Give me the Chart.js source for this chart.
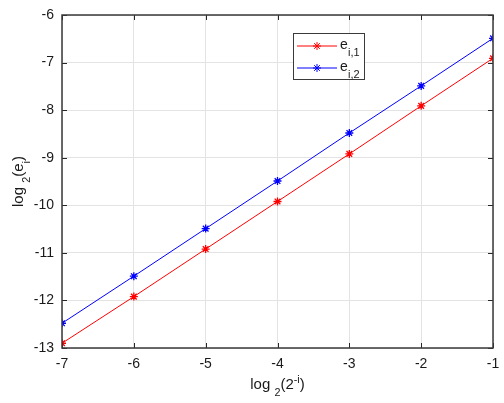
<!DOCTYPE html>
<html><head><meta charset="utf-8">
<script src="https://cdn.jsdelivr.net/npm/chart.js@4/dist/chart.umd.min.js"></script>
<style>html,body{margin:0;padding:0;background:#fff}#wrap{width:504px;height:403px}</style>
</head><body><div id="wrap"><canvas id="c" width="504" height="403"></canvas></div>
<script>
const xValues = [-7, -6, -5, -4, -3, -2, -1];
const errI1 = [-12.9, -11.92, -10.92, -9.92, -8.92, -7.91, -6.91];
const errI2 = [-12.48, -11.49, -10.49, -9.49, -8.48, -7.49, -6.49];
const seriesNames = [['e', 'i,1'], ['e', 'i,2']];
const xTitle = ['log ', '2', '(2', '-i', ')'];
const yTitle = ['log ', '2', '(e', 'i', ')'];

const FONT = '"Liberation Sans", Arial, sans-serif';

function drawRich(ctx, parts, x, y, size) {
  let w = 0;
  const segs = [];
  const types = parts.types;
  parts.forEach((t, i) => {
    const ty = types[i];
    const fs = ty === 'n' ? size : size * 0.72;
    ctx.font = fs + 'px ' + FONT;
    const mw = ctx.measureText(t).width;
    segs.push({t, ty, fs, mw});
    w += mw;
  });
  let cx = x - w / 2;
  segs.forEach(s => {
    ctx.font = s.fs + 'px ' + FONT;
    let dy = 0;
    if (s.ty === 'sub') dy = size * 0.45;
    if (s.ty === 'sup') dy = -size * 0.4;
    ctx.fillText(s.t, cx, y + dy);
    cx += s.mw;
  });
}

const decor = {
  id: 'decor',
  afterDraw(chart) {
    const ctx = chart.ctx;
    const a = chart.chartArea;
    const xs = chart.scales.x, ys = chart.scales.y;
    ctx.save();
    ctx.strokeStyle = '#262626';
    ctx.lineWidth = 1;
    ctx.beginPath();
    xs.ticks.forEach(t => {
      const px = Math.round(xs.getPixelForValue(t.value)) + 0.5;
      ctx.moveTo(px, a.bottom); ctx.lineTo(px, a.bottom - 5);
      ctx.moveTo(px, a.top); ctx.lineTo(px, a.top + 5);
    });
    ys.ticks.forEach(t => {
      const py = Math.round(ys.getPixelForValue(t.value)) + 0.5;
      ctx.moveTo(a.left, py); ctx.lineTo(a.left + 5, py);
      ctx.moveTo(a.right, py); ctx.lineTo(a.right - 5, py);
    });
    ctx.stroke();
    ctx.strokeStyle = '#3a3a3a';
    ctx.lineWidth = 1.5;
    ctx.strokeRect(a.left, a.top, a.right - a.left, a.bottom - a.top);

    ctx.fillStyle = '#1a1a1a';
    ctx.textBaseline = 'alphabetic';
    ctx.textAlign = 'left';
    const xt = xTitle.slice(); xt.types = ['n', 'sub', 'n', 'sup', 'n'];
    drawRich(ctx, xt, (a.left + a.right) / 2, 389, 15);
    ctx.save();
    ctx.translate(23, (a.top + a.bottom) / 2);
    ctx.rotate(-Math.PI / 2);
    const yt = yTitle.slice(); yt.types = ['n', 'sub', 'n', 'sub', 'n'];
    drawRich(ctx, yt, 0, 0, 15);
    ctx.restore();

    const lx = 293, ly = 33, lw = 71, lh = 46;
    ctx.fillStyle = '#fff';
    ctx.fillRect(lx, ly, lw, lh);
    ctx.strokeStyle = '#3a3a3a';
    ctx.lineWidth = 1;
    ctx.strokeRect(lx + 0.5, ly + 0.5, lw, lh);
    chart.data.datasets.forEach((ds, i) => {
      const yy = ly + 13 + i * 22;
      ctx.strokeStyle = ds.borderColor;
      ctx.lineWidth = 1;
      ctx.beginPath(); ctx.moveTo(lx + 4, yy); ctx.lineTo(lx + 44, yy); ctx.stroke();
      Chart.helpers.drawPoint(ctx, {pointStyle: 'star', radius: 4, borderWidth: 1.3}, lx + 24, yy);
      ctx.fillStyle = '#1a1a1a';
      ctx.font = '14px ' + FONT;
      ctx.textAlign = 'left';
      ctx.fillText(seriesNames[i][0], lx + 47, yy + 3);
      ctx.font = '11px ' + FONT;
      ctx.fillText(seriesNames[i][1], lx + 55, yy + 10);
    });
    ctx.restore();
  }
};

new Chart(document.getElementById('c'), {
  type: 'line',
  data: {
    datasets: [
      {label: 'e_i,1', data: xValues.map((x, i) => ({x, y: errI1[i]})), borderColor: '#ff0000', backgroundColor: '#ff0000', borderWidth: 1, pointStyle: 'star', pointRadius: 4, pointBorderWidth: 1.3, tension: 0},
      {label: 'e_i,2', data: xValues.map((x, i) => ({x, y: errI2[i]})), borderColor: '#0000ff', backgroundColor: '#0000ff', borderWidth: 1, pointStyle: 'star', pointRadius: 4, pointBorderWidth: 1.3, tension: 0}
    ]
  },
  options: {
    responsive: false,
    animation: false,
    devicePixelRatio: 1,
    layout: {padding: {top: 15, right: 11, left: 0, bottom: 0}},
    plugins: {legend: {display: false}, tooltip: {enabled: false}},
    scales: {
      x: {
        type: 'linear', min: -7, max: -1,
        ticks: {stepSize: 1, color: '#1a1a1a', font: {family: FONT, size: 14}, padding: 8, maxRotation: 0},
        grid: {color: '#e3e3e3', drawTicks: false},
        border: {display: false},
        afterFit(s) { s.height = 55; s.paddingRight = 0; s.paddingLeft = 0; }
      },
      y: {
        type: 'linear', min: -13, max: -6,
        ticks: {stepSize: 1, color: '#1a1a1a', font: {family: FONT, size: 14}, padding: 8},
        grid: {color: '#e3e3e3', drawTicks: false},
        border: {display: false},
        afterFit(s) { s.width = 62; s.paddingTop = 0; s.paddingBottom = 0; }
      }
    }
  },
  plugins: [decor]
});
</script></body></html>
